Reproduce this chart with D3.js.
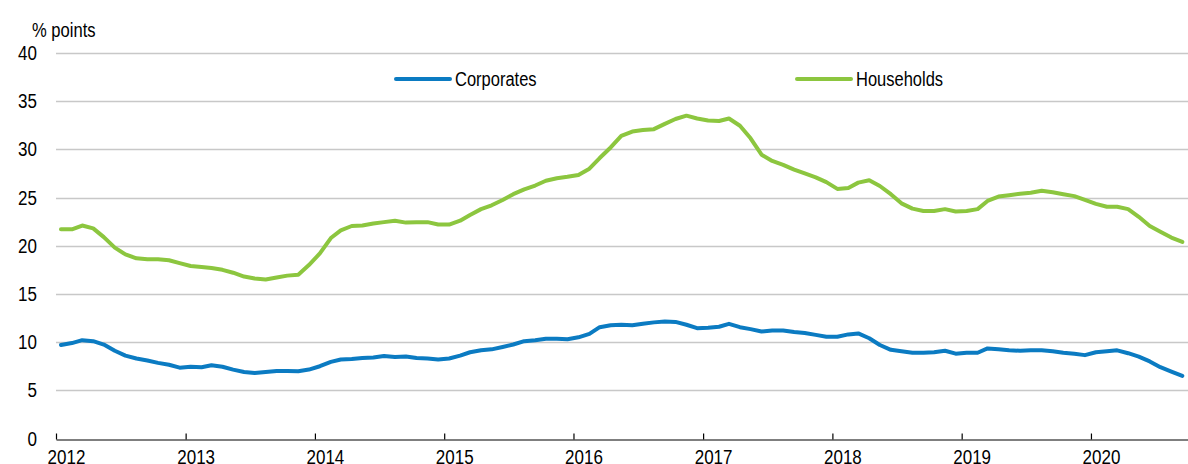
<!DOCTYPE html>
<html>
<head>
<meta charset="utf-8">
<script src="https://cdn.jsdelivr.net/npm/d3@7"></script>
<style>
  html, body { margin: 0; padding: 0; background: #fff; }
  svg text { font-family: "Liberation Sans Narrow", "Arial Narrow", "Liberation Sans", Arial, sans-serif; fill: #000; }
</style>
</head>
<body>
<svg id="chart" width="1188" height="464"></svg>
<script>
const startYear = 2012, startMonth = 0;
const yearTicks = [2012, 2013, 2014, 2015, 2016, 2017, 2018, 2019, 2020];
const yTicks = [0, 5, 10, 15, 20, 25, 30, 35, 40];
const seriesNames = ["Corporates", "Households"];
const corporates = [
  9.7, 9.9, 10.2, 10.1, 9.75, 9.1, 8.6, 8.3, 8.1, 7.85, 7.65, 7.35,
  7.45, 7.4, 7.6, 7.45, 7.15, 6.9, 6.8, 6.9, 7.0, 7.0, 6.98, 7.15,
  7.5, 7.95, 8.2, 8.25, 8.35, 8.4, 8.55, 8.45, 8.5, 8.35, 8.3, 8.2,
  8.3, 8.6, 8.95, 9.15, 9.25, 9.5, 9.75, 10.1, 10.2, 10.35, 10.35, 10.3,
  10.5, 10.85, 11.55, 11.75, 11.8, 11.75, 11.9, 12.05, 12.15, 12.1, 11.8, 11.45,
  11.5, 11.6, 11.9, 11.55, 11.35, 11.1, 11.2, 11.2, 11.05, 10.95, 10.75, 10.55,
  10.55, 10.8, 10.9, 10.4, 9.7, 9.2, 9.05, 8.9, 8.9, 8.95, 9.1, 8.8,
  8.9, 8.9, 9.35, 9.25, 9.15, 9.1, 9.15, 9.15, 9.05, 8.9, 8.8, 8.65,
  8.95, 9.05, 9.15, 8.85, 8.5, 8.0, 7.4, 6.95, 6.5
];
const households = [
  21.7, 21.7, 22.1, 21.8, 20.9, 19.8, 19.1, 18.7, 18.6, 18.6, 18.5, 18.2,
  17.9, 17.8, 17.7, 17.5, 17.2, 16.8, 16.6, 16.5, 16.7, 16.9, 17.0, 18.0,
  19.2, 20.8, 21.6, 22.05, 22.1, 22.3, 22.45, 22.6, 22.4, 22.45, 22.45, 22.2,
  22.2, 22.6, 23.2, 23.8, 24.2, 24.75, 25.35, 25.85, 26.25, 26.75, 27.0, 27.15,
  27.35, 28.0, 29.1, 30.2, 31.4, 31.85, 32.0, 32.1, 32.65, 33.15, 33.5, 33.2,
  33.0, 32.95, 33.2, 32.45, 31.15, 29.45, 28.8, 28.4, 27.9, 27.5, 27.1, 26.6,
  25.9, 26.0, 26.55, 26.8, 26.2, 25.35, 24.4, 23.85, 23.6, 23.6, 23.8, 23.55,
  23.6, 23.8, 24.65, 25.1, 25.25, 25.4, 25.5, 25.7, 25.55, 25.35, 25.15, 24.75,
  24.35, 24.05, 24.05, 23.8, 23.0, 22.05, 21.45, 20.85, 20.4
];
const colors = ["#0b7bc2", "#8cc63f"];

const svg = d3.select("#chart");
const dates = corporates.map((_, i) => new Date(startYear, startMonth + i, 15));

const x = d3.scaleTime()
  .domain([new Date(2012, 0, 1), new Date(2020, 9, 1)])
  .range([56, 1188]);
const y = d3.scaleLinear().domain([0, 40]).range([438.5, 53]);

// condense text to mimic a narrow typeface (unless a narrow face is installed)
function narrow(sel, factor) {
  sel.each(function () {
    const w = this.getComputedTextLength();
    if (w > 0) {
      d3.select(this).attr("textLength", (w * factor).toFixed(1)).attr("lengthAdjust", "spacingAndGlyphs");
    }
  });
}
const probe = svg.append("text").attr("font-size", 20).text("2012");
const probeW = probe.node().getComputedTextLength();
probe.remove();
const isNarrowInstalled = probeW < 40;
const factor = isNarrowInstalled ? 1 : 0.85;

// gridlines
svg.append("g").selectAll("line")
  .data(yTicks.filter(d => d > 0))
  .join("line")
  .attr("x1", 56).attr("x2", 1188)
  .attr("y1", d => Math.round(y(d)) + 0.5).attr("y2", d => Math.round(y(d)) + 0.5)
  .attr("stroke", "#c8c8c8").attr("stroke-width", 1.5);

// y labels
svg.append("g").selectAll("text")
  .data(yTicks)
  .join("text")
  .attr("x", 37).attr("y", d => y(d))
  .attr("dy", "0.35em")
  .attr("text-anchor", "end")
  .attr("font-size", 20)
  .text(d => d)
  .call(narrow, factor);

svg.append("text")
  .attr("x", 32).attr("y", 37)
  .attr("font-size", 19.5)
  .text("% points")
  .call(narrow, factor);

// x axis
const xAxis = d3.axisBottom(x)
  .tickValues(yearTicks.map(yr => new Date(yr, 0, 1)))
  .tickFormat(d3.timeFormat("%Y"))
  .tickSizeInner(-6).tickSizeOuter(0).tickPadding(10);
const gx = svg.append("g")
  .attr("transform", `translate(0,${Math.round(y(0)) + 0.5})`)
  .call(xAxis);
gx.select(".domain").attr("stroke", "#000").attr("stroke-width", 1.2);
gx.selectAll(".tick line").attr("stroke", "#000").attr("stroke-width", 1.2);
gx.selectAll(".tick text")
  .attr("font-size", 20)
  .attr("dx", 10)
  .attr("font-family", "\"Liberation Sans Narrow\", \"Arial Narrow\", \"Liberation Sans\", Arial, sans-serif")
  .attr("fill", "#000")
  .call(narrow, factor);

// lines
const line = d3.line()
  .x((d, i) => x(dates[i]))
  .y(d => y(d))
  .curve(d3.curveLinear);

[corporates, households].forEach((vals, k) => {
  svg.append("path")
    .datum(vals)
    .attr("d", line)
    .attr("fill", "none")
    .attr("stroke", colors[k])
    .attr("stroke-width", 4)
    .attr("stroke-linejoin", "round")
    .attr("stroke-linecap", "round");
});

// legend
const legendX = [396, 797];
seriesNames.forEach((name, k) => {
  const g = svg.append("g");
  g.append("line")
    .attr("x1", legendX[k]).attr("x2", legendX[k] + 54)
    .attr("y1", 79).attr("y2", 79)
    .attr("stroke", colors[k]).attr("stroke-width", 4)
    .attr("stroke-linecap", "round");
  g.append("text")
    .attr("x", legendX[k] + 59).attr("y", 79)
    .attr("dy", "0.36em")
    .attr("font-size", 20)
    .text(name)
    .call(narrow, factor * 0.97);
});
</script>
</body>
</html>
